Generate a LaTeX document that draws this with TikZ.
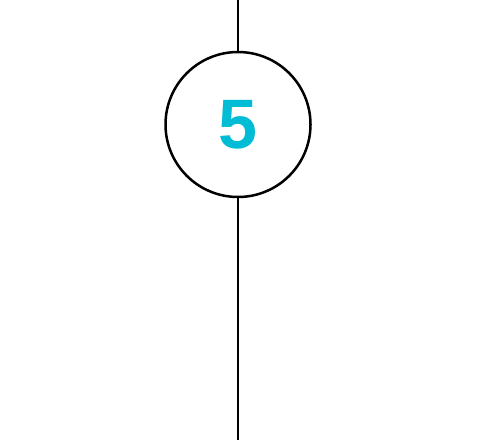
\documentclass[tikz,border=0pt]{standalone}
\usepackage{fontspec}
\setmainfont{Liberation Sans}
\usepackage{tikz}
\usetikzlibrary{positioning}
\definecolor{stepcyan}{HTML}{00BCD4}

\begin{document}
\begin{tikzpicture}
  \tikzstyle{stepcircle}=[circle, draw, line width=2.5pt, minimum size=145pt, inner sep=0pt]
  \useasboundingbox (0,0) rectangle (478pt,440pt);
  % step node
  \draw (238pt,315.5pt) node (five) [stepcircle]
    {\fontsize{70}{70}\selectfont\bfseries\color{stepcyan}5};
  % line ends
  \coordinate (top) at (238pt,440pt);
  \coordinate (bottom) at (238pt,0pt);
  \draw [line width=1.6pt] (top) -- (five.north);
  \draw [line width=1.6pt] (five.south) -- (bottom);
\end{tikzpicture}
\end{document}
